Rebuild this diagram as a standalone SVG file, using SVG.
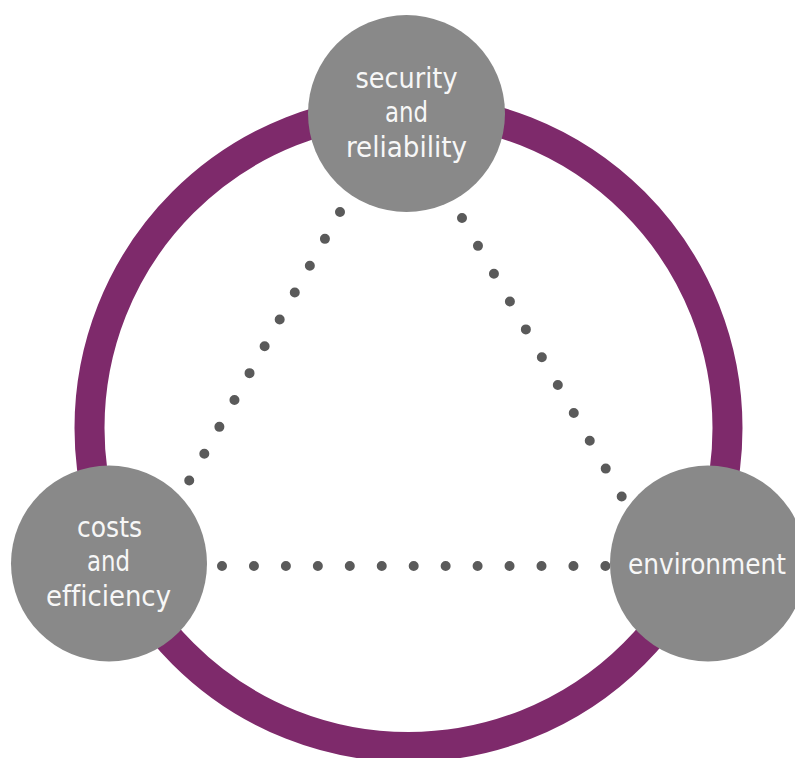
<svg xmlns="http://www.w3.org/2000/svg" width="795" height="758" viewBox="0 0 795 758">
  <style>
    .ring { fill: none; stroke: #7e2a6b; stroke-width: 30; }
    .dots { fill: none; stroke: #5a5a5a; stroke-width: 10; stroke-linecap: round; }
    .node { fill: #898989; }
    .label { font-family: "DejaVu Sans Condensed", "DejaVu Sans", sans-serif; font-size: 28px; fill: #f7f7f7; text-anchor: middle; font-variant-ligatures: none; }
  </style>
  <rect width="795" height="758" fill="#ffffff"/>
  <circle class="ring" cx="408.5" cy="428" r="319"/>
  <g id="connectors">
    <line class="dots" x1="340" y1="212" x2="189" y2="481" stroke-dasharray="0 30.8"/>
    <line class="dots" x1="462" y1="218" x2="622" y2="497" stroke-dasharray="0 32.1"/>
    <line class="dots" x1="222" y1="566" x2="606" y2="566" stroke-dasharray="0 31.95"/>
  </g>
  <g id="security">
    <circle class="node" cx="406.5" cy="113.5" r="98.5"/>
    <text class="label" x="406.5" y="88" textLength="102" lengthAdjust="spacingAndGlyphs">security</text>
    <text class="label" x="406.5" y="122" textLength="43" lengthAdjust="spacingAndGlyphs">and</text>
    <text class="label" x="406.5" y="157" textLength="121" lengthAdjust="spacingAndGlyphs">reliability</text>
  </g>
  <g id="costs">
    <circle class="node" cx="109" cy="563.5" r="98"/>
    <text class="label" x="109.5" y="537" textLength="65" lengthAdjust="spacingAndGlyphs">costs</text>
    <text class="label" x="108.5" y="571" textLength="43" lengthAdjust="spacingAndGlyphs">and</text>
    <text class="label" x="108.5" y="606" textLength="125" lengthAdjust="spacingAndGlyphs">efficiency</text>
  </g>
  <g id="environment">
    <circle class="node" cx="708" cy="563.5" r="98"/>
    <text class="label" x="707" y="574" textLength="158" lengthAdjust="spacingAndGlyphs">environment</text>
  </g>
</svg>
